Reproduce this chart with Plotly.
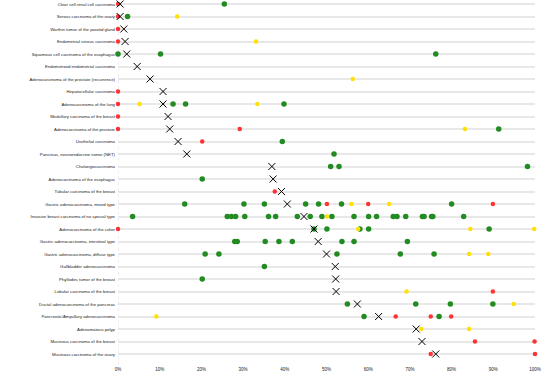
import plotly.graph_objects as go

categories = [
    "Clear cell renal cell carcinoma",
    "Serous carcinoma of the ovary",
    "Warthin tumor of the parotid gland",
    "Endometrial serous carcinoma",
    "Squamous cell carcinoma of the esophagus",
    "Endometrioid endometrial carcinoma",
    "Adenocarcinoma of the prostate (recurrence)",
    "Hepatocellular carcinoma",
    "Adenocarcinoma of the lung",
    "Medullary carcinoma of the breast",
    "Adenocarcinoma of the prostate",
    "Urothelial carcinoma",
    "Pancreas, neuroendocrine tumor (NET)",
    "Cholangiocarcinoma",
    "Adenocarcinoma of the esophagus",
    "Tubular carcinoma of the breast",
    "Gastric adenocarcinoma, mixed type",
    "Invasive breast carcinoma of no special type",
    "Adenocarcinoma of the colon",
    "Gastric adenocarcinoma, intestinal type",
    "Gastric adenocarcinoma, diffuse type",
    "Gallbladder adenocarcinoma",
    "Phyllodes tumor of the breast",
    "Lobular carcinoma of the breast",
    "Ductal adenocarcinoma of the pancreas",
    "Pancreatic/Ampullary adenocarcinoma",
    "Adenomatous polyp",
    "Mucinous carcinoma of the breast",
    "Mucinous carcinoma of the ovary",
]

green_values = [
    [25.5], [2.3], [], [], [0, 10.2, 76.2], [], [], [], [13.2, 16.2, 39.8], [], [91.3],
    [39.4], [51.8], [51, 53, 98.2], [20.2], [],
    [16, 30.2, 35.1, 45, 48.1, 53.6, 80],
    [3.5, 26.2, 27.2, 28.2, 30.4, 36.1, 37.8, 43, 46.1, 48.9, 51.3, 56.6, 60.1, 62, 66,
     66.9, 69, 73, 73.4, 75.2, 75.5, 82.9],
    [47, 50.1, 58, 60.1, 89],
    [28, 28.6, 35.3, 38.6, 41.8, 53.7, 56.6, 69.4],
    [20.9, 24.2, 52.5, 67.7, 75.8],
    [35.1], [20.2], [], [55, 71.4, 79.7, 89.9], [59, 77], [], [], [],
]

yellow_values = [
    [], [14.2], [], [33.1], [], [], [56.3], [], [5.2, 33.4], [], [83.2],
    [], [], [], [], [],
    [56, 65],
    [50.1],
    [57.6, 84.5, 99.8],
    [],
    [84.2, 88.8],
    [], [], [69.2], [94.9], [9.2], [72.7, 84.2], [], [],
]

red_values = [
    [0], [0], [0], [0], [], [], [], [0], [0], [0], [0, 29.2],
    [20.2], [], [], [], [37.6],
    [50.1, 60, 89.9],
    [],
    [0],
    [],
    [],
    [], [], [89.9], [], [66.6, 75, 79.9], [], [85.6, 99.9], [75, 100],
]

median_values = [
    0.5, 0.5, 1.4, 1.7, 2.1, 4.6, 7.7, 10.8, 10.8, 12.0, 12.4, 14.4, 16.5, 36.9, 37.2,
    39.2, 40.6, 44.6, 47.0, 48.0, 50.0, 52.1, 52.2, 52.3, 57.4, 62.5, 71.5, 72.9, 76.2,
]


def flatten(values):
    xs, ys = [], []
    for cat, vals in zip(categories, values):
        for v in vals:
            xs.append(v)
            ys.append(cat)
    return xs, ys


fig = go.Figure()

gx, gy = flatten(green_values)
fig.add_trace(go.Scatter(x=gx, y=gy, mode="markers", cliponaxis=False,
                         marker=dict(color="#228B22", size=5.5), name="green"))
yx, yy = flatten(yellow_values)
fig.add_trace(go.Scatter(x=yx, y=yy, mode="markers", cliponaxis=False,
                         marker=dict(color="#FFE000", size=4.5), name="yellow"))
rx, ry = flatten(red_values)
fig.add_trace(go.Scatter(x=rx, y=ry, mode="markers", cliponaxis=False,
                         marker=dict(color="#FF3333", size=4.5), name="red"))
fig.add_trace(go.Scatter(x=median_values, y=categories, mode="markers", cliponaxis=False,
                         marker=dict(symbol="x-thin-open", size=7, color="black",
                                     line=dict(color="#222222", width=1)),
                         name="median"))

fig.update_layout(
    width=550, height=388,
    margin=dict(l=118, r=15, t=0, b=23),
    paper_bgcolor="white", plot_bgcolor="white",
    showlegend=False,
    font=dict(family="Liberation Sans, Arial, sans-serif", color="#222222"),
)
fig.update_xaxes(
    range=[0, 100], tickvals=list(range(0, 101, 10)),
    ticktext=[f"{v}%" for v in range(0, 101, 10)],
    tickfont=dict(size=4.5), showgrid=False, zeroline=False,
    showline=False, ticks="",
)
fig.update_yaxes(
    type="category", categoryorder="array", categoryarray=categories,
    range=[28.88, -0.32], tickfont=dict(size=4.3),
    showgrid=True, gridcolor="#e8e8e8", gridwidth=1.5, zeroline=False,
    showline=False, ticks="", ticklabelstandoff=2,
)
fig.add_shape(type="line", xref="x", yref="paper", x0=0, x1=0, y0=0, y1=1,
              line=dict(color="#dddddd", width=1, dash="dot"), layer="below")

fig.write_html("out.html", config={"displayModeBar": False},
               post_script="document.body.style.margin='0px';")
